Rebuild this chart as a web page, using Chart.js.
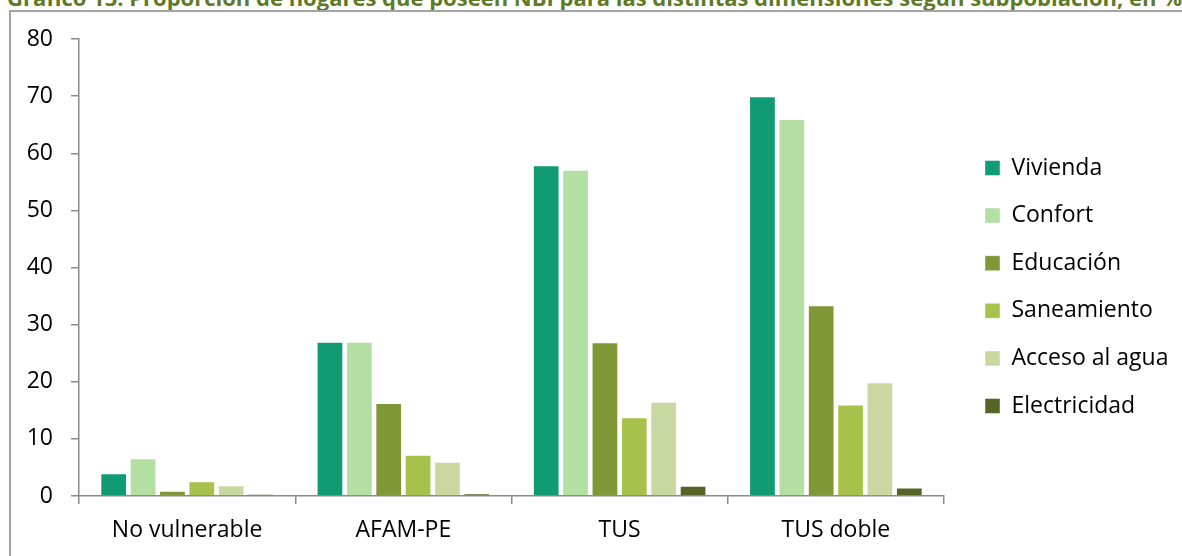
<!DOCTYPE html>
<html>
<head>
<meta charset="utf-8">
<script src="https://cdn.jsdelivr.net/npm/chart.js@4.4.1/dist/chart.umd.min.js"></script>
<style>
html, body { margin: 0; padding: 0; background: #fff; overflow: hidden; }
#wrap { position: relative; width: 1182px; height: 556px; overflow: hidden; }
#title { position: absolute; left: 7px; top: -14px; white-space: nowrap; font: bold 22px/22px "Open Sans"; color: #5f7a27; }
#frame { position: absolute; left: 9px; top: 10px; width: 2000px; height: 2000px; border: 2px solid #a3a3a3; }
#chart { position: absolute; left: 0; top: 0; }
</style>
</head>
<body>
<div id="wrap">
  <div id="title">Gráfico 13: Proporción de hogares que poseen NBI para las distintas dimensiones según subpoblación, en %</div>
  <div id="frame"></div>
  <canvas id="chart" width="1182" height="556"></canvas>
</div>
<script>
// data (% of households)
const categories = ['No vulnerable', 'AFAM-PE', 'TUS', 'TUS doble'];
const seriesNames = ['Vivienda', 'Confort', 'Educación', 'Saneamiento', 'Acceso al agua', 'Electricidad'];
const vivienda = [4.0, 27.0, 57.9, 70.0];
const confort = [6.6, 27.0, 57.1, 66.0];
const educacion = [0.9, 16.3, 26.9, 33.4];
const saneamiento = [2.6, 7.2, 13.8, 16.0];
const accesoAgua = [1.9, 6.0, 16.5, 19.9];
const electricidad = [0.35, 0.5, 1.8, 1.5];
const yTicks = [0, 10, 20, 30, 40, 50, 60, 70, 80];

const colors = ['#109b75', '#b3dfa3', '#7f9734', '#a7c24a', '#c8d8a0', '#556525'];
const allValues = [vivienda, confort, educacion, saneamiento, accesoAgua, electricidad];

// layout numbers
const fontFamily = '"Open Sans", sans-serif';
const fontSize = 23;
const axisColor = '#8a8a8a';
const plotLeft = 79, plotTop = 39, plotRight = 944, plotBottom = 496;
const legendStep = 47.6, legendFirst = 168, legendBoxX = 985;
const legendPad = legendStep - fontSize;
const spacerWidth = legendBoxX - legendPad - plotRight;

// push the legend column down to where the items sit
const colHeight = seriesNames.length * legendStep;
const legendTitleH = 2 * (legendFirst - fontSize / 2) - plotTop - legendPad - plotBottom + colHeight;

const datasets = seriesNames.map((name, i) => ({
    label: name,
    data: allValues[i],
    backgroundColor: colors[i],
    borderColor: 'rgba(255,255,255,0.45)',
    borderWidth: 1,
    categoryPercentage: 0.815,
    barPercentage: 0.91
}));

const chart = new Chart(document.getElementById('chart'), {
    type: 'bar',
    data: { labels: categories, datasets: datasets },
    options: {
        responsive: false,
        animation: false,
        layout: { padding: { top: plotTop, left: 0, right: 10, bottom: 0 } },
        plugins: {
            tooltip: { enabled: false },
            legend: {
                position: 'right',
                fullSize: false,
                maxWidth: 300,
                title: { display: true, text: '', font: { size: 1, lineHeight: 1 }, padding: { top: legendTitleH - 1, bottom: 0 } },
                labels: {
                    boxWidth: 15,
                    boxHeight: 15,
                    padding: legendPad,
                    color: '#000',
                    font: { family: fontFamily, size: fontSize }
                }
            }
        },
        scales: {
            x: {
                offset: true,
                grid: { display: true, offset: true, drawOnChartArea: false, drawTicks: true, tickLength: 8, color: axisColor, lineWidth: 1.5 },
                border: { display: true, color: axisColor, width: 1.5 },
                ticks: { padding: 13, color: '#000', font: { family: fontFamily, size: fontSize } },
                afterFit: s => { s.height = 556 - plotBottom; }
            },
            y: {
                min: 0,
                max: 80,
                afterBuildTicks: s => { s.ticks = yTicks.map(v => ({ value: v })); },
                grid: { display: true, drawOnChartArea: false, drawTicks: true, tickLength: 8, color: axisColor, lineWidth: 1.5 },
                border: { display: true, color: axisColor, width: 1.5 },
                ticks: { padding: 18, color: '#000', font: { family: fontFamily, size: fontSize } },
                afterFit: s => { s.width = plotLeft; }
            },
            spacer: {
                type: 'linear',
                position: 'right',
                display: true,
                grid: { display: false },
                border: { display: false },
                ticks: { display: false },
                afterFit: s => { s.width = spacerWidth; }
            }
        }
    }
});

// the legend width comes from the text, so correct the right padding once it is known
chart.options.layout.padding.right += chart.chartArea.right - plotRight;
chart.update();
</script>
</body>
</html>
